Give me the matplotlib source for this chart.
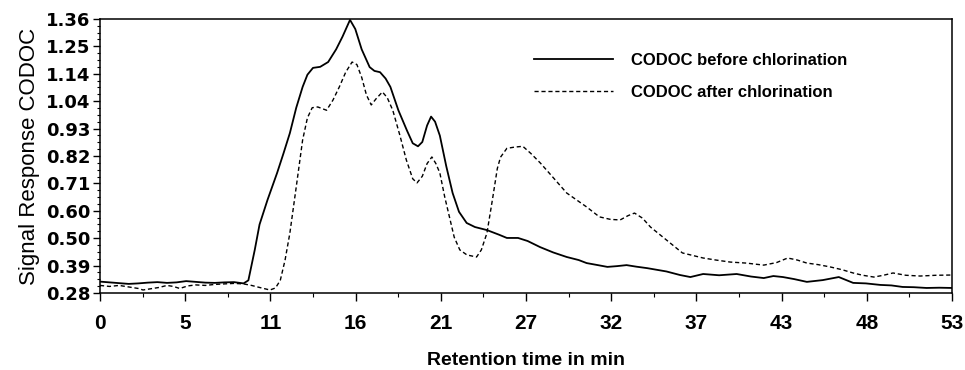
import numpy as np
import matplotlib.pyplot as plt
from matplotlib.ticker import FixedLocator, AutoMinorLocator

# retention time (min) and signal
t_before = [0, 0.6, 1.2, 1.8, 2.4, 3.0, 3.6, 4.2, 4.8, 5.4, 6.0, 6.6, 7.2, 7.8,
            8.4, 9.0, 9.3, 9.7, 10.0, 10.5, 11.1, 11.5, 11.9, 12.3, 12.7, 13.0,
            13.35, 13.8, 14.3, 14.8, 15.2, 15.67, 16.0, 16.4, 16.9, 17.2, 17.55,
            17.9, 18.2, 18.7, 19.24, 19.6, 19.93, 20.2, 20.5, 20.75, 21.0, 21.3,
            21.7, 22.1, 22.5, 22.98, 23.5, 24.25, 25.0, 25.5, 26.2, 26.8, 27.58,
            28.4, 29.25, 30.0, 30.5, 31.2, 31.8, 32.4, 33.0, 33.6, 34.3, 35.5,
            36.35, 37.0, 37.8, 38.8, 39.9, 40.8, 41.6, 42.2, 42.8, 43.5, 44.3,
            45.3, 46.3, 47.2, 48.0, 48.9, 49.6, 50.3, 51.0, 51.8, 52.6, 53.4]
y_before = [0.325, 0.322, 0.319, 0.316, 0.318, 0.321, 0.323, 0.32, 0.322, 0.327,
            0.324, 0.321, 0.32, 0.322, 0.323, 0.318, 0.33, 0.45, 0.55, 0.647,
            0.753, 0.83, 0.91, 1.01, 1.092, 1.14, 1.167, 1.171, 1.19, 1.24,
            1.29, 1.356, 1.32, 1.24, 1.17, 1.155, 1.15, 1.125, 1.092, 1.0, 0.92,
            0.87, 0.858, 0.875, 0.94, 0.975, 0.955, 0.9, 0.78, 0.674, 0.6, 0.556,
            0.54, 0.528, 0.51, 0.497, 0.497, 0.485, 0.461, 0.44, 0.422, 0.41,
            0.398, 0.39, 0.383, 0.386, 0.39, 0.384, 0.378, 0.365, 0.351, 0.343,
            0.355, 0.35, 0.355, 0.345, 0.339, 0.347, 0.343, 0.335, 0.324, 0.331,
            0.343, 0.32, 0.318, 0.312, 0.31, 0.304, 0.303, 0.3, 0.301, 0.3]

t_after = [0, 0.6, 1.2, 1.8, 2.4, 2.7, 3.2, 3.7, 4.2, 4.6, 5.0, 5.5, 6.0, 6.6,
           7.2, 7.8, 8.4, 9.0, 9.5, 10.0, 10.65, 11.0, 11.3, 11.6, 11.9, 12.3,
           12.7, 13.0, 13.3, 13.65, 14.2, 14.6, 15.0, 15.4, 15.8, 16.1, 16.4,
           16.7, 17.0, 17.3, 17.7, 18.0, 18.35, 18.8, 19.2, 19.6, 19.87, 20.2,
           20.5, 20.8, 21.05, 21.3, 21.6, 21.9, 22.2, 22.55, 23.0, 23.6, 23.9,
           24.25, 24.6, 24.9, 25.1, 25.5, 26.0, 26.5, 27.0, 27.6, 28.4, 29.25,
           30.5, 31.3, 32.0, 32.6, 33.1, 33.5, 34.0, 34.5, 35.5, 36.5, 37.8,
           38.6, 39.5, 40.5, 41.6, 42.4, 43.1, 43.7, 44.3, 45.0, 45.75, 46.5,
           47.2, 47.8, 48.5, 49.1, 49.7, 50.5, 51.4, 52.4, 53.4]
y_after = [0.31, 0.306, 0.31, 0.304, 0.298, 0.292, 0.297, 0.302, 0.31, 0.306,
           0.298, 0.308, 0.312, 0.31, 0.314, 0.316, 0.318, 0.316, 0.31, 0.302,
           0.292, 0.3, 0.33, 0.41, 0.516, 0.698, 0.883, 0.97, 1.01, 1.013, 1.0,
           1.04, 1.092, 1.15, 1.19, 1.18, 1.13, 1.06, 1.021, 1.045, 1.072, 1.05,
           1.0, 0.9, 0.804, 0.73, 0.714, 0.74, 0.79, 0.816, 0.79, 0.753, 0.66,
           0.58, 0.5, 0.45, 0.43, 0.422, 0.45, 0.516, 0.65, 0.77, 0.815, 0.85,
           0.855, 0.858, 0.83, 0.792, 0.735, 0.674, 0.619, 0.58, 0.57, 0.568,
           0.585, 0.595, 0.575, 0.54, 0.489, 0.438, 0.418, 0.41, 0.402, 0.398,
           0.39, 0.4, 0.418, 0.41, 0.398, 0.392, 0.383, 0.372, 0.359, 0.35,
           0.343, 0.35, 0.359, 0.35, 0.347, 0.35, 0.351]

x_ticks = [0, 5.34, 10.68, 16.02, 21.36, 26.7, 32.04, 37.38, 42.72, 48.06, 53.4]
x_labels = ["0", "5", "11", "16", "21", "27", "32", "37", "43", "48", "53"]
y_ticks = [0.28, 0.388, 0.496, 0.604, 0.712, 0.82, 0.928, 1.036, 1.144, 1.252, 1.36]
y_labels = ["0.28", "0.39", "0.50", "0.60", "0.71", "0.82", "0.93", "1.04",
            "1.14", "1.25", "1.36"]

plt.rcParams['font.family'] = ['Liberation Sans', 'DejaVu Sans']

fig = plt.figure(figsize=(9.65, 3.7), dpi=100)
ax = fig.add_axes([0.1036, 0.208, 0.883, 0.741])

ax.plot(t_before, y_before, c="black", lw=1.3, label="CODOC before chlorination")
ax.plot(t_after, y_after, c="black", lw=1.0, ls=(0, (3, 2)),
        label="CODOC after chlorination")

ax.set_xlim(0, 53.4)
ax.set_ylim(0.28, 1.36)
ax.xaxis.set_major_locator(FixedLocator(x_ticks))
ax.set_xticklabels(x_labels, fontsize=15, fontweight="bold")
ax.yaxis.set_major_locator(FixedLocator(y_ticks))
ax.set_yticklabels(y_labels, fontsize=13, fontweight="bold", family="DejaVu Sans")
ax.xaxis.set_minor_locator(AutoMinorLocator(2))
ax.yaxis.set_minor_locator(AutoMinorLocator(4))
ax.tick_params(axis="x", which="major", length=6, width=1, pad=9)
ax.tick_params(axis="x", which="minor", length=3, width=0.8)
ax.tick_params(axis="y", which="major", length=5, width=1, pad=2)
ax.tick_params(axis="y", which="minor", length=2.5, width=0.8)
for s in ax.spines.values():
    s.set_linewidth(1.1)

ax.set_ylabel("Signal Response CODOC", fontsize=16, labelpad=4)
ax.set_xlabel("Retention time in min", fontsize=14, fontweight="bold", labelpad=14)

ax.legend(loc="upper left", bbox_to_anchor=(526 / 965, 1 - 45 / 370),
          bbox_transform=fig.transFigure, frameon=False, borderpad=0,
          handlelength=4.7, handletextpad=1.1, labelspacing=1.0,
          prop={"size": 12, "weight": "bold"})

plt.savefig("out.png", dpi=100)
